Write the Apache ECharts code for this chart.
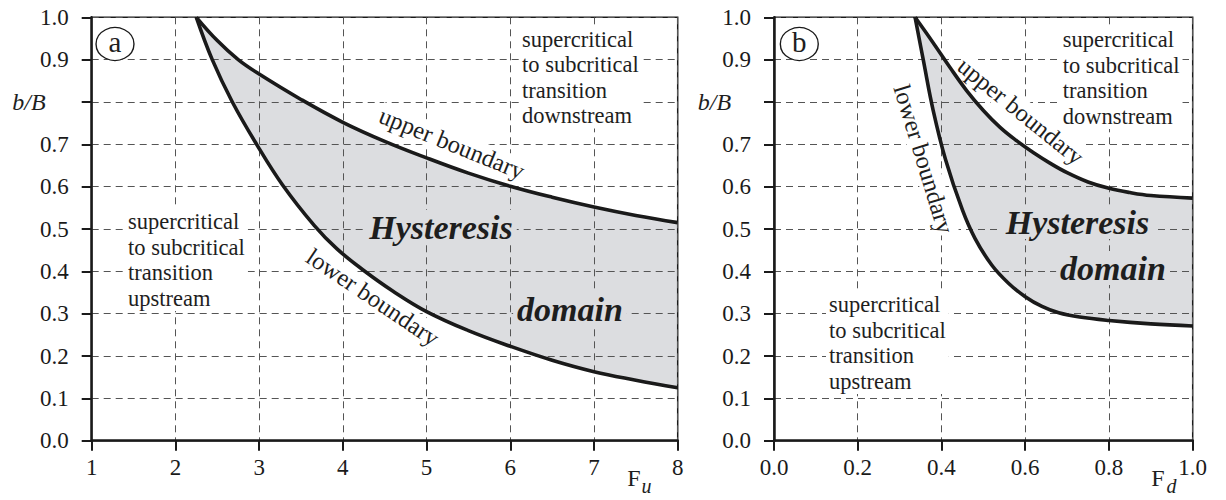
<!DOCTYPE html>
<html><head><meta charset="utf-8">
<script src="https://cdn.jsdelivr.net/npm/echarts@6/dist/echarts.min.js"></script>
<style>html,body{margin:0;padding:0;background:#fff}#c{width:1226px;height:500px}</style>
</head><body><div id="c"></div>
<script>
// ---- data ----
const fuTicks = [1, 2, 3, 4, 5, 6, 7, 8];
const fdTicks = [0.0, 0.2, 0.4, 0.6, 0.8, 1.0];
const yTicks = [0.0, 0.1, 0.2, 0.3, 0.4, 0.5, 0.6, 0.7, 0.8, 0.9, 1.0];
// panel (a): b/B vs F_u
const fuUpper = [[2.25,1.0],[2.5,0.945],[2.75,0.9],[3.0,0.866],[3.5,0.806],[4.0,0.752],[4.5,0.707],[5.0,0.668],[5.5,0.632],[6.0,0.601],[6.5,0.575],[7.0,0.552],[7.5,0.532],[8.0,0.515]];
const fuLower = [[2.25,1.0],[2.44,0.9],[2.68,0.8],[2.97,0.7],[3.28,0.604],[3.66,0.508],[3.93,0.453],[4.25,0.402],[4.6,0.353],[5.0,0.305],[5.5,0.26],[6.0,0.223],[6.5,0.19],[7.0,0.163],[7.5,0.143],[8.0,0.125]];
// panel (b): b/B vs F_d
const fdUpper = [[0.337,1.0],[0.38,0.94],[0.42,0.882],[0.46,0.827],[0.50,0.78],[0.54,0.74],[0.58,0.708],[0.62,0.68],[0.66,0.655],[0.70,0.633],[0.75,0.611],[0.80,0.596],[0.85,0.586],[0.90,0.579],[1.0,0.573]];
const fdLower = [[0.337,1.0],[0.357,0.897],[0.38,0.781],[0.41,0.663],[0.45,0.545],[0.48,0.478],[0.52,0.415],[0.56,0.372],[0.60,0.34],[0.64,0.317],[0.68,0.302],[0.73,0.292],[0.80,0.284],[0.90,0.276],[1.0,0.271]];

const FONT = '"Liberation Serif", "Times New Roman", serif';
const INK = '#1a1a1a';
const FILL = '#dcdde0';
const SMOOTH = 0.4;

const chart = echarts.init(document.getElementById('c'), null, {renderer: 'svg', width: 1226, height: 500});

function xAxis(gi, ticks, fmt) {
  return {
    type: 'value', gridIndex: gi, min: ticks[0], max: ticks[ticks.length - 1],
    interval: ticks[1] - ticks[0],
    axisLine: {onZero: false, lineStyle: {color: INK, width: 2.5}},
    axisTick: {length: 10, lineStyle: {color: INK, width: 2}},
    axisLabel: {margin: 15, fontFamily: FONT, fontSize: 23, color: '#1a1a1a', formatter: fmt},
    splitLine: {show: true, lineStyle: {color: '#555', width: 1, type: [7, 5]}}
  };
}
function yAxis(gi) {
  return {
    type: 'value', gridIndex: gi, min: yTicks[0], max: yTicks[yTicks.length - 1], interval: 0.1,
    axisLine: {onZero: false, lineStyle: {color: INK, width: 2.5}},
    axisTick: {length: 10, lineStyle: {color: INK, width: 2}},
    axisLabel: {margin: 23, fontFamily: FONT, fontSize: 23, color: '#1a1a1a',
      formatter: v => Math.abs(v - 0.8) < 1e-6 ? '' : v.toFixed(1)},
    splitLine: {show: true, lineStyle: {color: '#555', width: 1, type: [7, 5]}}
  };
}
function area(data, gi, color, z, cover) {
  const as = {color, opacity: 1};
  if (cover) { as.shadowColor = '#ffffff'; as.shadowBlur = 0; as.shadowOffsetX = -2; }
  return {type: 'line', xAxisIndex: gi, yAxisIndex: gi, data, smooth: SMOOTH,
    symbol: 'none', silent: true, z, lineStyle: {width: 0}, areaStyle: as};
}
function curve(data, gi) {
  return {type: 'line', xAxisIndex: gi, yAxisIndex: gi, data, smooth: SMOOTH,
    symbol: 'none', silent: true, z: 3, lineStyle: {color: INK, width: 3.6}};
}
function txt(x, y, text, o) {
  o = o || {};
  return {type: 'text', x, y, rotation: o.rot || 0, z: o.z || 10, silent: true,
    style: {text, fontFamily: FONT, fontSize: o.size || 22, fill: o.color || '#1e1e1e',
      fontStyle: o.italic ? 'italic' : 'normal', fontWeight: o.bold ? 'bold' : 'normal',
      align: o.align || 'center', verticalAlign: o.valign || 'middle',
      lineHeight: o.lh, backgroundColor: o.bg, padding: o.pad}};
}
const region = (x, y, s) => txt(x, y, s, {align: 'left', valign: 'top', lh: 25.5, size: 22.5, bg: '#fff', pad: [0, 3, 0, 3]});
const deg = d => d * Math.PI / 180;
const bLabel = (x, y, s, r) => txt(x, y, s, {size: 24.5, rot: deg(r), bg: '#fff', pad: [0, 1], z: 2});

chart.setOption({
  animation: false,
  grid: [
    {left: 91.7, top: 17.3, width: 586, height: 423.4, show: true, borderColor: INK, borderWidth: 1.5, backgroundColor: 'transparent'},
    {left: 774, top: 17.3, width: 418.7, height: 423.4, show: true, borderColor: INK, borderWidth: 1.5, backgroundColor: 'transparent'}
  ],
  xAxis: [xAxis(0, fuTicks, v => String(v)), xAxis(1, fdTicks, v => v.toFixed(1))],
  yAxis: [yAxis(0), yAxis(1)],
  series: [
    area(fuUpper, 0, FILL, -2, false), area(fuLower, 0, '#fff', -1, true),
    area(fdUpper, 1, FILL, -2, false), area(fdLower, 1, '#fff', -1, true),
    curve(fuUpper, 0), curve(fuLower, 0), curve(fdUpper, 1), curve(fdLower, 1)
  ],
  graphic: [
    // panel labels
    {type: 'circle', x: 115, y: 44, scaleX: 1.15, z: 10, silent: true, shape: {cx: 0, cy: 0, r: 16.5},
      style: {fill: '#fff', stroke: INK, lineWidth: 1.2, strokeNoScale: true}},
    txt(115, 42, 'a', {size: 29}),
    {type: 'circle', x: 799.3, y: 44, scaleX: 1.15, z: 10, silent: true, shape: {cx: 0, cy: 0, r: 16.5},
      style: {fill: '#fff', stroke: INK, lineWidth: 1.2, strokeNoScale: true}},
    txt(799.3, 42, 'b', {size: 29}),
    // y axis names
    txt(29, 102, 'b/B', {size: 24, italic: true}),
    txt(714.5, 102, 'b/B', {size: 24, italic: true}),
    // x axis names
    txt(634, 478, 'F', {size: 24}), txt(646.5, 486, 'u', {size: 20, italic: true}),
    txt(1158, 478, 'F', {size: 24}), txt(1171.5, 486, 'd', {size: 20, italic: true}),
    // region texts
    region(519, 26.5, 'supercritical\nto subcritical\ntransition\ndownstream'),
    region(125, 209, 'supercritical\nto subcritical\ntransition\nupstream'),
    region(1059.7, 27, 'supercritical\nto subcritical\ntransition\ndownstream'),
    region(826, 292, 'supercritical\nto subcritical\ntransition\nupstream'),
    // hysteresis domain
    txt(441, 227, 'Hysteresis', {size: 34, bold: true, italic: true, bg: FILL, pad: [0, 4]}),
    txt(570, 309, 'domain', {size: 34, bold: true, italic: true, bg: FILL, pad: [0, 4]}),
    txt(1077.5, 222, 'Hysteresis', {size: 34, bold: true, italic: true, bg: FILL, pad: [0, 4]}),
    txt(1113, 268, 'domain', {size: 34, bold: true, italic: true, bg: FILL, pad: [0, 4]}),
    // boundary labels
    bLabel(452, 143, 'upper boundary', -22),
    bLabel(373, 297, 'lower boundary', -34),
    bLabel(1021, 111, 'upper boundary', -39),
    bLabel(924, 159, 'lower boundary', -73)
  ]
});
</script></body></html>
